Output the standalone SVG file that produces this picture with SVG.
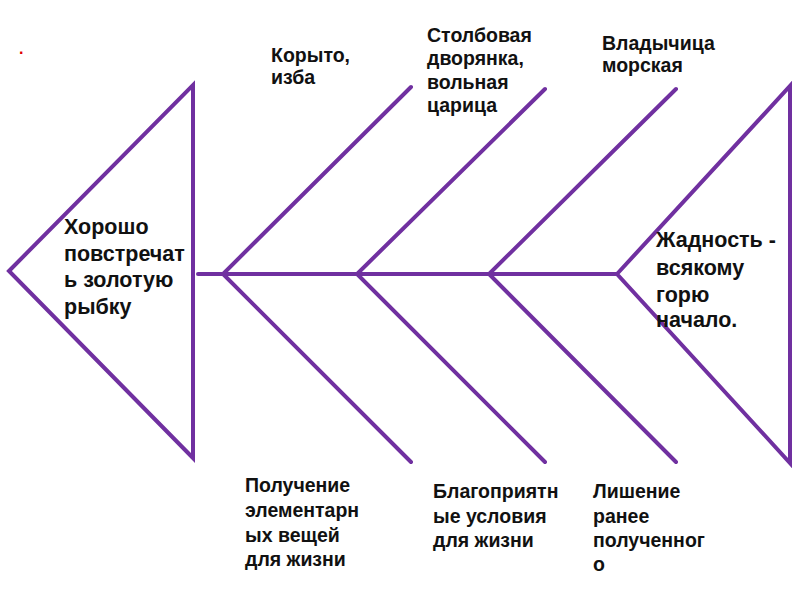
<svg xmlns="http://www.w3.org/2000/svg" width="800" height="600" viewBox="0 0 800 600">
<style>
.ln{stroke:#7030A0;stroke-width:4;fill:none;stroke-linecap:round;stroke-linejoin:miter}
.t{font-family:"Liberation Sans",Arial,sans-serif;font-size:19.5px;font-weight:bold;fill:#111}
.big{font-size:21.5px}
</style>
<rect width="800" height="600" fill="#fff"/>
<text x="19" y="54" style="font-family:'Liberation Sans',Arial,sans-serif;font-size:16px;font-weight:bold;fill:#e00000">.</text>
<g id="head-left">
<polygon class="ln" points="9,271 193,85 193,458"/>
<text class="t big"><tspan x="64" y="234">Хорошо</tspan><tspan x="64" y="261">повстречат</tspan><tspan x="64" y="287">ь золотую</tspan><tspan x="64" y="314">рыбку</tspan></text>
</g>
<g id="head-right">
<polygon class="ln" points="617,274 790,86 790,463"/>
<text class="t big"><tspan x="656" y="247">Жадность -</tspan><tspan x="656" y="275">всякому</tspan><tspan x="656" y="302">горю</tspan><tspan x="656" y="327">начало.</tspan></text>
</g>
<g id="connectors">
<line class="ln" x1="198" y1="274" x2="617" y2="274"/>
<polyline class="ln" points="411,87 223,274 411,462"/>
<polyline class="ln" points="545,89 357,274 545,462"/>
<polyline class="ln" points="676,89 489,274 676,462"/>
</g>
<g id="label-top-1">
<text class="t"><tspan x="271" y="62">Корыто,</tspan><tspan x="271" y="84">изба</tspan></text>
</g>
<g id="label-top-2">
<text class="t"><tspan x="427" y="42">Столбовая</tspan><tspan x="427" y="65">дворянка,</tspan><tspan x="427" y="89">вольная</tspan><tspan x="427" y="112">царица</tspan></text>
</g>
<g id="label-top-3">
<text class="t"><tspan x="602" y="50">Владычица</tspan><tspan x="602" y="72">морская</tspan></text>
</g>
<g id="label-bottom-1">
<text class="t"><tspan x="245" y="492">Получение</tspan><tspan x="245" y="517">элементарн</tspan><tspan x="245" y="542">ых вещей</tspan><tspan x="245" y="566">для жизни</tspan></text>
</g>
<g id="label-bottom-2">
<text class="t"><tspan x="433" y="498">Благоприятн</tspan><tspan x="433" y="523">ые условия</tspan><tspan x="433" y="547">для жизни</tspan></text>
</g>
<g id="label-bottom-3">
<text class="t"><tspan x="593" y="498">Лишение</tspan><tspan x="593" y="523">ранее</tspan><tspan x="593" y="547">полученног</tspan><tspan x="593" y="571">о</tspan></text>
</g>
</svg>
